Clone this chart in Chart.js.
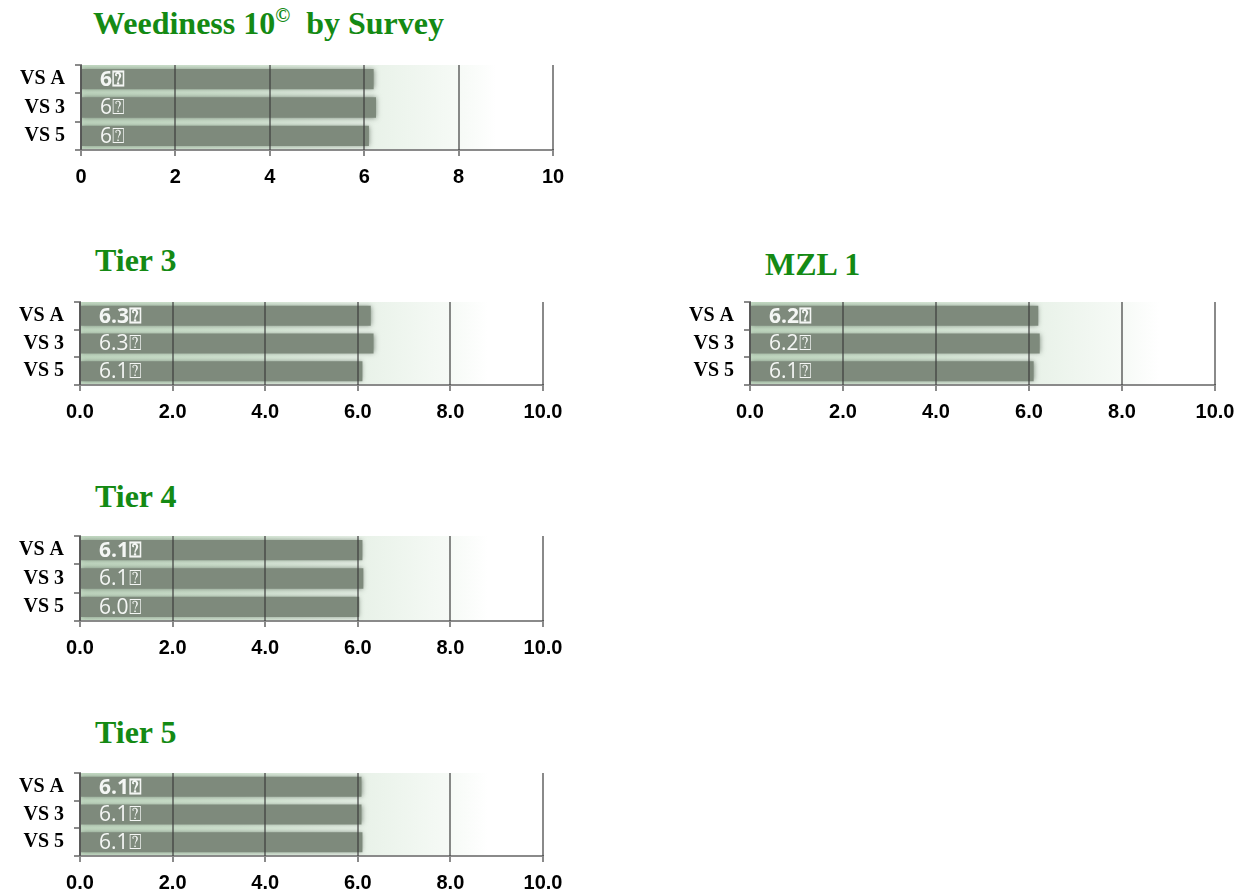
<!DOCTYPE html>
<html>
<head>
<meta charset="utf-8">
<script src="https://cdn.jsdelivr.net/npm/chart.js@4/dist/chart.umd.min.js"></script>
<style>
  html, body { margin: 0; padding: 0; background: #fff; overflow: hidden; }
  body { width: 1246px; height: 896px; position: relative; }
  .title { position: absolute; font-family: "Liberation Serif", "Times New Roman", serif; font-weight: bold;
           font-size: 32px; line-height: 1; color: #148a14; white-space: nowrap; }
  .title sup { font-size: 20px; vertical-align: 12px; line-height: 0; }
  .box { position: absolute; }
</style>
</head>
<body>

<div class="title" style="left:93px; top:7px;">Weediness 10<sup>©</sup>&nbsp; by Survey</div>
<div class="title" style="left:95px; top:244px;">Tier 3</div>
<div class="title" style="left:765px; top:248px;">MZL 1</div>
<div class="title" style="left:95px; top:480px;">Tier 4</div>
<div class="title" style="left:95px; top:716px;">Tier 5</div>

<div class="box" id="b1"><canvas id="survey"></canvas></div>
<div class="box" id="b2"><canvas id="tier3"></canvas></div>
<div class="box" id="b3"><canvas id="mzl1"></canvas></div>
<div class="box" id="b4"><canvas id="tier4"></canvas></div>
<div class="box" id="b5"><canvas id="tier5"></canvas></div>

<script>
// data
const categories = ['VS A', 'VS 3', 'VS 5'];
const surveyValues = [6.2, 6.25, 6.1];
const tier3Values = [6.28, 6.34, 6.1];
const mzl1Values = [6.2, 6.23, 6.1];
const tier4Values = [6.1, 6.12, 6.03];
const tier5Values = [6.08, 6.08, 6.1];
const surveyTicks = ['0', '2', '4', '6', '8', '10'];
const tierTicks = ['0.0', '2.0', '4.0', '6.0', '8.0', '10.0'];
const missingGlyph = '\u2370';

// where each plot area sits on the page: [left, right, top, bottom]
const panels = [
  { box: 'b1', id: 'survey', values: surveyValues, ticks: surveyTicks, decimals: 0, left: 0, width: 600, plot: [81, 553, 65, 150] },
  { box: 'b2', id: 'tier3', values: tier3Values, ticks: tierTicks, decimals: 1, left: 0, width: 600, plot: [80, 543, 302, 385] },
  { box: 'b3', id: 'mzl1', values: mzl1Values, ticks: tierTicks, decimals: 1, left: 660, width: 586, plot: [750, 1215, 302, 385] },
  { box: 'b4', id: 'tier4', values: tier4Values, ticks: tierTicks, decimals: 1, left: 0, width: 600, plot: [80, 543, 536, 621] },
  { box: 'b5', id: 'tier5', values: tier5Values, ticks: tierTicks, decimals: 1, left: 0, width: 600, plot: [80, 543, 773, 856] }
];

const axisGray = '#8a8a8a';

const barLook = {
  id: 'barLook',
  beforeDraw(chart) {
    // soft green glow behind the bars
    const { ctx, chartArea: a } = chart;
    const g = ctx.createLinearGradient(a.left, 0, a.right, 0);
    g.addColorStop(0, 'rgb(194,217,194)');
    g.addColorStop(0.35, 'rgb(212,229,212)');
    g.addColorStop(0.62, 'rgb(233,242,233)');
    g.addColorStop(0.8, 'rgb(246,250,246)');
    g.addColorStop(0.88, 'rgb(255,255,255)');
    ctx.save();
    ctx.fillStyle = g;
    ctx.fillRect(a.left, a.top, a.width, a.height);
    ctx.restore();
  },
  beforeDatasetsDraw(chart) {
    const { ctx } = chart;
    ctx.save();
    ctx.shadowColor = 'rgba(95,110,95,0.8)';
    ctx.shadowBlur = 5;
  },
  afterDatasetsDraw(chart) {
    const { ctx, chartArea: a } = chart;
    ctx.restore();
    const xs = chart.scales.x;
    // vertical grid lines sit on top of the bars
    ctx.save();
    ctx.strokeStyle = 'rgba(60,60,60,0.6)';
    ctx.lineWidth = 2;
    xs.ticks.forEach(t => {
      const px = Math.round(xs.getPixelForValue(t.value));
      ctx.beginPath();
      ctx.moveTo(px, a.top);
      ctx.lineTo(px, a.bottom);
      ctx.stroke();
    });
    ctx.restore();
    const p = chart.config.options.plugins.barLook;
    chart.getDatasetMeta(0).data.forEach((bar, i) => {
      const v = chart.data.datasets[0].data[i];
      ctx.save();
      ctx.fillStyle = '#f4f6f4';
      ctx.font = (i === 0 ? 'bold ' : '') + '21px "Open Sans", "Noto Sans", sans-serif';
      ctx.textBaseline = 'middle';
      ctx.textAlign = 'left';
      ctx.fillText(v.toFixed(p.decimals) + missingGlyph, xs.getPixelForValue(0) + 19, bar.y + 1);
      ctx.restore();
    });
  }
};

panels.forEach(pn => {
  const [pl, pr, pt, pb] = pn.plot;
  const top = pt - 10;
  const height = pb - top + 50;
  const el = document.getElementById(pn.box);
  el.style.left = pn.left + 'px';
  el.style.top = top + 'px';
  el.style.width = pn.width + 'px';
  el.style.height = height + 'px';

  new Chart(document.getElementById(pn.id).getContext('2d'), {
    type: 'bar',
    data: {
      labels: categories,
      datasets: [{
        data: pn.values,
        backgroundColor: '#7e8a7c',
        borderWidth: 0,
        barPercentage: 0.72,
        categoryPercentage: 1
      }]
    },
    plugins: [barLook],
    options: {
      indexAxis: 'y',
      responsive: true,
      maintainAspectRatio: false,
      animation: false,
      layout: { padding: { top: pt - top, right: pn.left + pn.width - pr, left: 0, bottom: 0 } },
      plugins: {
        legend: { display: false },
        tooltip: { enabled: false },
        barLook: { decimals: pn.decimals }
      },
      scales: {
        x: {
          min: 0, max: 10,
          afterFit: s => { s.height = top + height - pb; s.paddingLeft = 0; s.paddingRight = 0; },
          ticks: {
            stepSize: 2,
            padding: 9,
            color: '#000',
            font: { family: '"Liberation Sans", Arial, sans-serif', weight: 'bold', size: 20 },
            callback: (v, i) => pn.ticks[i]
          },
          grid: { drawOnChartArea: false, color: axisGray, lineWidth: 2, tickLength: 6 },
          border: { color: axisGray, width: 2 }
        },
        y: {
          afterFit: s => { s.width = pl - pn.left; s.paddingTop = 0; s.paddingBottom = 0; },
          ticks: {
            autoSkip: false,
            padding: 10,
            color: '#000',
            font: { family: '"Liberation Serif", "Times New Roman", serif', weight: 'bold', size: 20 }
          },
          grid: { offset: true, drawOnChartArea: false, color: axisGray, lineWidth: 2, tickLength: 6 },
          border: { color: axisGray, width: 2 }
        }
      }
    }
  });
});
</script>
</body>
</html>
